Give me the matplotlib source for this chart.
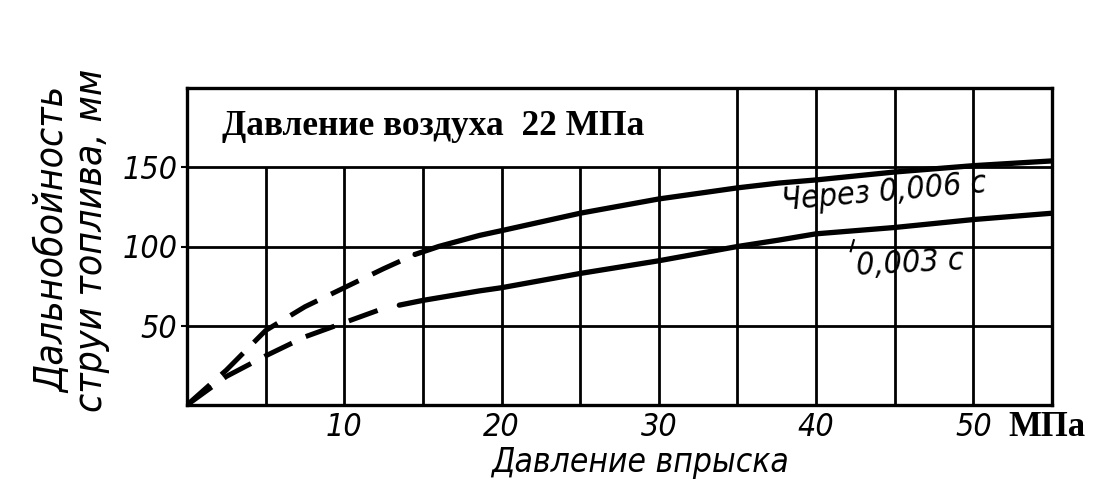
import matplotlib
matplotlib.use("Agg")
import matplotlib.pyplot as plt

# ---- data ----
x_ticks = [10, 20, 30, 40, 50]
y_ticks = [50, 100, 150]
grid_x = [5, 10, 15, 20, 25, 30, 35, 40, 45, 50]
grid_y = [50, 100, 150]

upper_dash_x = [0, 2.5, 5, 7.5, 10, 12.5, 14.5]
upper_dash_y = [0, 22, 47, 62, 74, 86, 95]
upper_solid_x = [14.5, 16, 18.6, 20, 25, 30, 35, 37.6, 40, 45, 50, 55]
upper_solid_y = [95, 100, 107, 110, 121, 130, 137, 140, 142, 147, 151, 154]

lower_dash_x = [0, 2.5, 5, 7.5, 10, 12.5]
lower_dash_y = [0, 18, 31, 43, 52, 61]
lower_solid_x = [13.5, 15, 18.6, 20, 25, 30, 35, 37.6, 40, 45, 50, 55]
lower_solid_y = [63, 66, 72, 74, 83, 91, 100, 104, 108, 112, 117, 121]

plt.rcParams['lines.scale_dashes'] = False
draft = dict(family=['DejaVu Sans'], style='italic', stretch='condensed')
serif = dict(family=['Liberation Serif', 'DejaVu Serif'], weight='bold')

fig = plt.figure(figsize=(10.98, 4.84), dpi=100)
ax = fig.add_axes([187/1098, 1-405/484, (1052-187)/1098, (405-88)/484])
ax.set_xlim(0, 55)
ax.set_ylim(0, 200)

# grid
for gx in grid_x:
    top = 200 if gx >= 35 else 150
    ax.plot([gx, gx], [0, top], color='black', lw=2.0, zorder=1, solid_capstyle='butt')
for gy in grid_y:
    ax.plot([0, 55], [gy, gy], color='black', lw=2.0, zorder=1, solid_capstyle='butt')

# curves
ax.plot(upper_dash_x, upper_dash_y, color='black', lw=3.6, linestyle=(0, (22, 11)), zorder=3)
ax.plot(upper_solid_x, upper_solid_y, color='black', lw=3.8, zorder=3, solid_capstyle='round')
ax.plot(lower_dash_x, lower_dash_y, color='black', lw=3.6, linestyle=(0, (22, 11)), zorder=3)
ax.plot(lower_solid_x, lower_solid_y, color='black', lw=3.8, zorder=3, solid_capstyle='round')

# annotations
ax.text(44.3, 134, 'Через 0,006 с', fontsize=23, rotation=5, ha='center', va='center', **draft)
ax.text(46.0, 89, '0,003 с', fontsize=23, rotation=3, ha='center', va='center', **draft)
ax.plot([42.4, 42.2], [104, 97], color='black', lw=1.5, zorder=3)
ax.text(2.2, 176, 'Давление воздуха  22 МПа', fontsize=25.5, ha='left', va='center', **serif)

for s in ax.spines.values():
    s.set_linewidth(2.4)

ax.set_xticks(x_ticks)
ax.set_yticks(y_ticks)
ax.set_xticklabels([str(v) for v in x_ticks], fontsize=23, **draft)
ax.set_yticklabels([str(v) for v in y_ticks], fontsize=23, **draft)
ax.tick_params(axis='x', length=0, pad=5)
ax.tick_params(axis='y', length=4, width=1.5, pad=3)

ax.set_xlabel('Давление впрыска', fontsize=24, **draft)
ax.xaxis.set_label_coords((640-187)/865, -0.13)
ax.set_ylabel('Дальнобойность\nструи топлива, мм', fontsize=28,
              linespacing=1.0, **draft)
ax.yaxis.set_label_coords((110-187)/865, 0.52)

fig.text(1008/1098, 1-428/484, 'МПа', fontsize=25, ha='left', va='center', **serif)

fig.savefig('out.png', dpi=100, facecolor='white')
